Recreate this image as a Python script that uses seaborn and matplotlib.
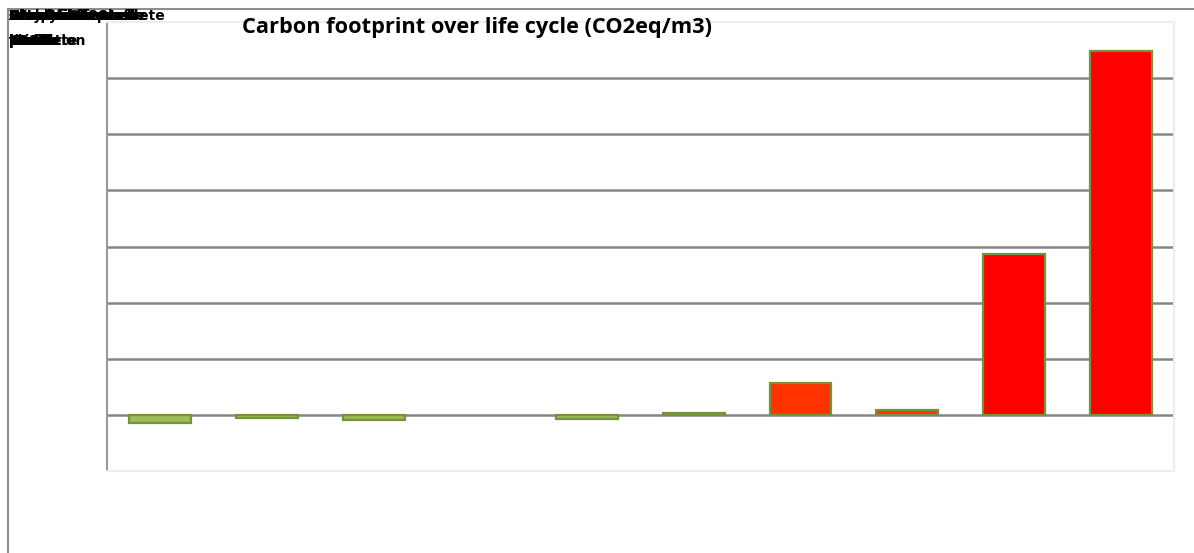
import matplotlib
matplotlib.use("Agg")
import matplotlib.pyplot as plt
from matplotlib.lines import Line2D
import seaborn as sns
import pandas as pd

# Building materials and their life-cycle carbon footprint
materials = [
    "Sawn timber C24", "Glulam GL28h", "Cross laminated timber", "Wood fibre insulation",
    "LVL panel", "Clay brick", "Ready-mix concrete", "Aerated concrete block",
    "Structural steel", "Aluminium profile",
]
footprint = [-0.14, -0.05, -0.10, 0.0, -0.08, 0.03, 0.57, 0.09, 2.86, 6.48]
bar_colors = ["#9BBB59", "#9BBB59", "#9BBB59", "#9BBB59", "#9BBB59", "#9BBB59",
              "#FF3300", "#FF3300", "#FF0000", "#FF0000"]
title = "Carbon footprint over life cycle (CO2eq/m3)"

df = pd.DataFrame({"material": materials, "footprint": footprint})

sns.set_theme(style="white")
plt.rcParams["font.family"] = ["Open Sans", "DejaVu Sans"]

fig = plt.figure(figsize=(11.94, 5.53), dpi=100)
ax = fig.add_axes([107 / 1194, 82 / 553, 1067 / 1194, 449 / 553])

sns.barplot(data=df, x="material", y="footprint", hue="material",
            palette=bar_colors, saturation=1, legend=False, width=0.58,
            edgecolor="#76923C", linewidth=1.6, ax=ax, zorder=3)

# bars with no value get no outline
for patch, val in zip(ax.patches, footprint):
    if val == 0:
        patch.set_edgecolor("none")

ax.set_ylim(-1, 7)
ax.set_xlim(-0.5, len(materials) - 0.5)
for yv in range(0, 7):
    ax.axhline(yv, color="#868686", linewidth=1.8, zorder=2)

ax.set_xticks([])
ax.set_yticks([])
ax.set_xlabel("")
ax.set_ylabel("")
for side in ["top", "right", "bottom"]:
    ax.spines[side].set_color("#EDEDED")
    ax.spines[side].set_linewidth(1.5)
ax.spines["left"].set_color("#9A9A9A")
ax.spines["left"].set_linewidth(1.5)

fig.text(477 / 1194, 1 - 28 / 553, title, ha="center", va="center",
         fontsize=15.7, fontweight="bold", color="black")

# Category names stacked in the corner
for name in materials:
    words = name.split(" ")
    first = " ".join(words[:2])
    second = " ".join(words[2:]) if len(words) > 2 else words[-1]
    fig.text(9 / 1194, 1 - 16 / 553, first, ha="left", va="center",
             fontsize=10, fontweight="bold", color="black",
             family=["DejaVu Sans"])
    fig.text(9 / 1194, 1 - 41 / 553, second, ha="left", va="center",
             fontsize=10, fontweight="bold", color="black",
             family=["DejaVu Sans"])

# Outer frame (top and left edges)
fig.add_artist(Line2D([8 / 1194, 1], [1 - 9 / 553, 1 - 9 / 553],
                      transform=fig.transFigure, color="#8C8C8C", linewidth=1.5))
fig.add_artist(Line2D([8 / 1194, 8 / 1194], [0, 1 - 9 / 553],
                      transform=fig.transFigure, color="#8C8C8C", linewidth=1.5))

fig.savefig("out.png", dpi=100)
